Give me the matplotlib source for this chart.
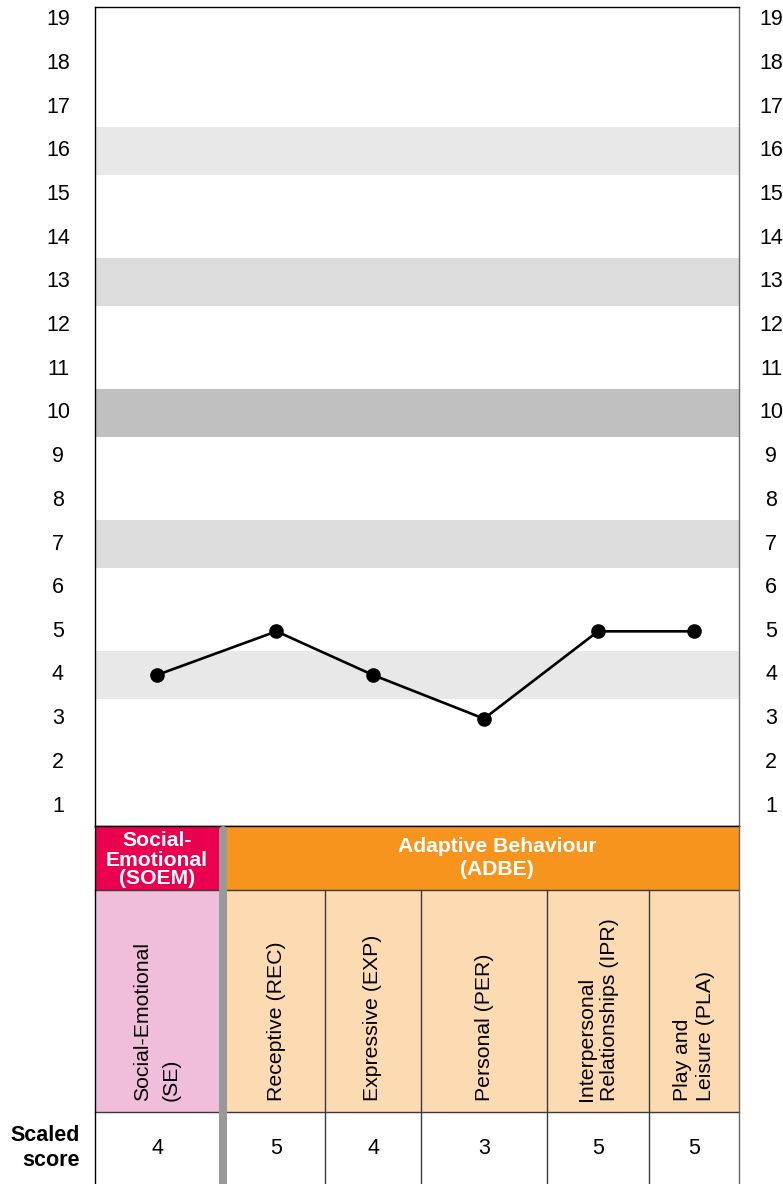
import matplotlib
matplotlib.use("Agg")
import matplotlib.pyplot as plt
from matplotlib.patches import Rectangle

plt.rcParams['font.family'] = ['Liberation Sans', 'DejaVu Sans']

# data
subtests = ['Social-Emotional\n(SE)', 'Receptive (REC)', 'Expressive (EXP)',
            'Personal (PER)', 'Interpersonal\nRelationships (IPR)', 'Play and\nLeisure (PLA)']
scores = [4, 5, 4, 3, 5, 5]
domains = ['Social-\nEmotional\n(SOEM)', 'Adaptive Behaviour\n(ADBE)']
y_ticks = list(range(1, 20))
band_levels = [16, 13, 10, 7, 4]
band_colors = ['#e8e8e8', '#dcdcdc', '#c0c0c0', '#dcdcdc', '#e8e8e8']

# layout (pixels)
W, H = 783, 1184
x0, x1 = 95, 739
plot_top, plot_bot = 7, 826
head_bot, name_bot = 890, 1112
sep_x = 223
col_edges = [95, 219, 228, 325, 421, 547, 649, 739]
col_left = [col_edges[0]] + col_edges[2:-1]
col_right = [col_edges[1]] + col_edges[3:]
centers = [(a + b) / 2 for a, b in zip(col_left, col_right)]

fig = plt.figure(figsize=(W / 100, H / 100), dpi=100)

# --- chart ---
ax = fig.add_axes([x0 / W, (H - plot_bot) / H, (x1 - x0) / W, (plot_bot - plot_top) / H])
ppu = (806 - 20) / 18
ax.set_ylim(1 - (plot_bot - 806) / ppu, 19 + (20 - plot_top) / ppu)
ax.set_xlim(x0, x1)
for lvl, c in zip(band_levels, band_colors):
    ax.axhspan(lvl - 0.55, lvl + 0.55, color=c, lw=0, zorder=0)
ax.plot(centers, scores, color='black', lw=1.9, marker='o', ms=9.5, zorder=3)
ax.set_xticks([])
ax.set_yticks([])
for s in ['left', 'top', 'bottom']:
    ax.spines[s].set_color('black')
    ax.spines[s].set_linewidth(1)
ax.spines['right'].set_color('#666666')
ax.spines['right'].set_linewidth(1)
tr = ax.get_yaxis_transform()
for t in y_ticks:
    ax.text((58 - x0) / (x1 - x0), t, str(t), transform=tr, ha='center', va='center', fontsize=15.5)
    ax.text((771 - x0) / (x1 - x0), t, str(t), transform=tr, ha='center', va='center', fontsize=15.5)

# --- table below ---
tab = fig.add_axes([0, 0, 1, 1], facecolor='none')
tab.set_xlim(0, W)
tab.set_ylim(H, 0)
tab.axis('off')

tab.add_patch(Rectangle((x0, plot_bot), sep_x - x0, head_bot - plot_bot, color='#ea004f', lw=0))
tab.add_patch(Rectangle((sep_x, plot_bot), x1 - sep_x, head_bot - plot_bot, color='#f7941e', lw=0))
tab.add_patch(Rectangle((x0, head_bot), sep_x - x0, name_bot - head_bot, color='#f0bedb', lw=0))
tab.add_patch(Rectangle((sep_x, head_bot), x1 - sep_x, name_bot - head_bot, color='#fddbb2', lw=0))

line_c = '#3a3a3a'
tab.plot([x0, x1], [plot_bot, plot_bot], color='black', lw=1)
tab.plot([x0, x1], [head_bot, head_bot], color=line_c, lw=1)
tab.plot([x0, x1], [name_bot, name_bot], color=line_c, lw=1)
tab.plot([x0, x0], [plot_bot, H], color='black', lw=1)
tab.plot([x1, x1], [plot_bot, H], color='#666666', lw=1)
for xe in col_edges[3:-1]:
    tab.plot([xe, xe], [head_bot, H], color=line_c, lw=1)
tab.plot([sep_x, sep_x], [plot_bot + 4, H + 10], color='#999999', lw=5.8,
         solid_capstyle='round', clip_on=False)

# header texts
tab.text(157, 860, domains[0], color='white', fontweight='bold', fontsize=15.2,
         ha='center', va='center', linespacing=1.0)
tab.text(497, 858, domains[1], color='white', fontweight='bold', fontsize=15.2,
         ha='center', va='center', linespacing=1.25)

# subtest names and scores
name_spacing = [1.6, 1.0, 1.0, 1.0, 1.3, 1.3]
for cx, name, sc, ls in zip(centers, subtests, scores, name_spacing):
    tab.text(cx, 1101, name, rotation=90, ha='center', va='bottom',
             multialignment='left', fontsize=15.3, linespacing=ls)
    tab.text(cx, 1148, str(sc), ha='center', va='center', fontsize=15.5)

tab.text(80, 1148, 'Scaled\nscore', ha='right', va='center', fontweight='bold',
         fontsize=15.5, multialignment='right', linespacing=1.3)

fig.savefig('out.png', dpi=100)
